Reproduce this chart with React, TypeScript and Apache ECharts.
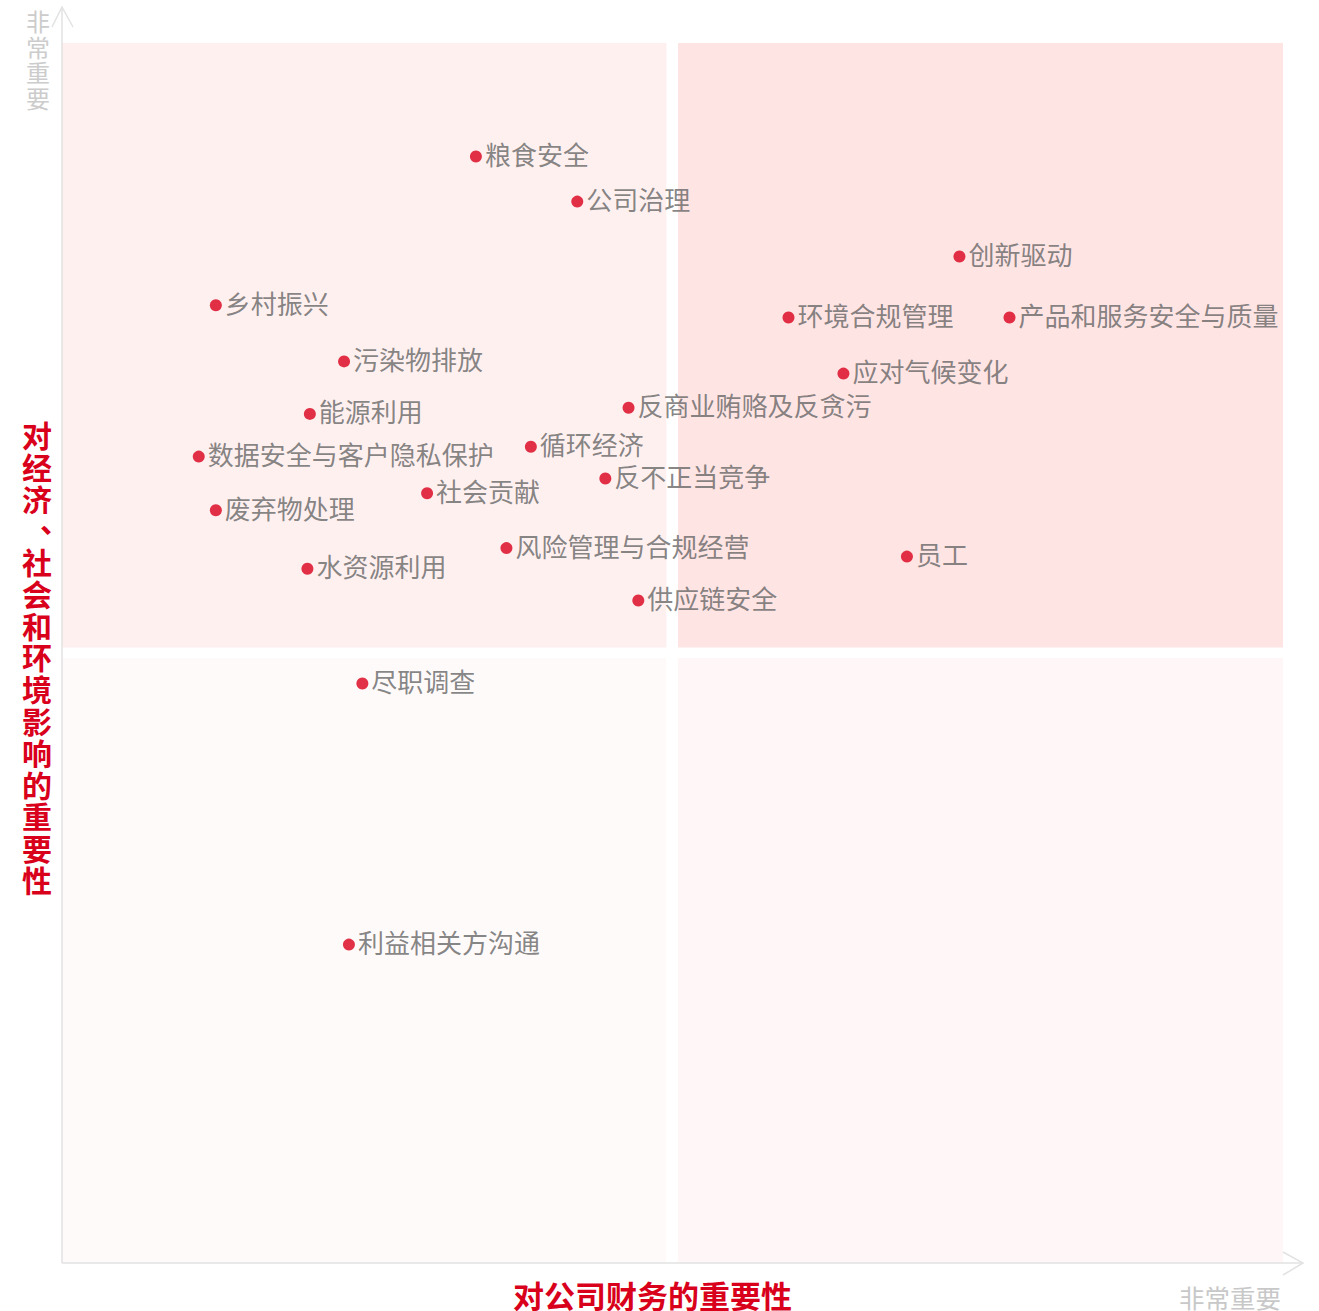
import React, { useEffect, useRef } from "react";
import * as echarts from "echarts";

const topicNames = [
  "粮食安全", "公司治理", "创新驱动", "乡村振兴", "环境合规管理", "产品和服务安全与质量",
  "污染物排放", "应对气候变化", "反商业贿赂及反贪污", "能源利用", "循环经济", "数据安全与客户隐私保护",
  "反不正当竞争", "社会贡献", "废弃物处理", "风险管理与合规经营", "员工", "水资源利用",
  "供应链安全", "尽职调查", "利益相关方沟通",
];
const financialImportance = [
  33.9, 42.2, 73.5, 12.6, 59.5, 77.6,
  23.1, 64.0, 46.4, 20.3, 38.4, 11.2,
  44.5, 29.9, 12.6, 36.4, 69.2, 20.1,
  47.2, 24.6, 23.5,
];
const impactImportance = [
  90.7, 87.0, 82.5, 78.5, 77.5, 77.5,
  73.9, 72.9, 70.1, 69.6, 66.9, 66.1,
  64.3, 63.1, 61.7, 58.6, 57.9, 56.9,
  54.3, 47.5, 26.1,
];
const xAxisTitle = "对公司财务的重要性";
const yAxisTitleParts = ["对经济", "、", "社会和环境影响的重要性"];
const endLabel = "非常重要";

const FONT = '"Noto Sans CJK SC", "Noto Sans", sans-serif';
const RED = "#d9001b";

export default function App() {
  const ref = useRef<HTMLDivElement>(null);
  useEffect(() => {
    document.body.style.margin = "0";
    const chart = echarts.init(ref.current!, null, { renderer: "svg" });
    const data = topicNames.map((n, i) => ({ name: n, value: [financialImportance[i], impactImportance[i]] }));
    const axisColor = "#e2e2e2";
    const LH = 31.8;
    const titleStyle = { fontSize: 30, lineHeight: LH, fill: RED, fontWeight: "bold", fontFamily: FONT };
    chart.setOption({
      animation: false,
      textStyle: { fontFamily: FONT },
      grid: { left: 62, right: 36, top: 43, bottom: 48 },
      xAxis: { type: "value", min: 0, max: 100, show: false },
      yAxis: { type: "value", min: 0, max: 100, show: false },
      series: [
        {
          type: "scatter",
          data,
          symbolSize: 12,
          itemStyle: { color: RED },
          label: {
            show: true,
            position: "right",
            distance: 3,
            offset: [0, -3],
            formatter: "{b}",
            color: "#666666",
            fontSize: 26,
            fontFamily: FONT,
          },
          markArea: {
            silent: true,
            label: { show: false },
            data: [
              [{ coord: [0, 50.45], itemStyle: { color: "#fff0f0" } }, { coord: [49.5, 100] }],
              [{ coord: [50.45, 50.45], itemStyle: { color: "#ffe4e4" } }, { coord: [100, 100] }],
              [{ coord: [0, 0], itemStyle: { color: "#fffafa" } }, { coord: [49.5, 49.6] }],
              [{ coord: [50.45, 0], itemStyle: { color: "#fff7f7" } }, { coord: [100, 49.6] }],
            ],
          },
        },
      ],
      graphic: [
        { type: "line", shape: { x1: 62, y1: 1263, x2: 62, y2: 8 }, style: { stroke: axisColor, lineWidth: 1.5 }, z: 10 },
        { type: "line", shape: { x1: 62, y1: 1263, x2: 1302, y2: 1263 }, style: { stroke: axisColor, lineWidth: 1.5 }, z: 10 },
        { type: "polyline", shape: { points: [[52, 27], [62, 7], [73, 27]] }, style: { stroke: axisColor, lineWidth: 1.5, fill: null }, z: 10 },
        { type: "polyline", shape: { points: [[1283, 1252], [1303, 1263], [1283, 1275]] }, style: { stroke: axisColor, lineWidth: 1.5, fill: null }, z: 10 },
        {
          type: "text", left: 26, top: 8,
          style: { text: endLabel.split("").join("\n"), fontSize: 24, lineHeight: 25.5, fill: "#cccccc", fontFamily: FONT },
        },
        {
          type: "text", x: 1179, y: 1296,
          style: { text: endLabel, fontSize: 25.5, lineHeight: 26, fill: "#c8c8c8", fontFamily: FONT, verticalAlign: "middle" },
        },
        {
          type: "text", left: 22, top: 418,
          style: { ...titleStyle, text: yAxisTitleParts[0].split("").join("\n") },
        },
        {
          type: "text", x: 40, y: 519,
          style: { ...titleStyle, lineHeight: 12, verticalAlign: "middle", text: yAxisTitleParts[1] },
        },
        {
          type: "text", left: 22, top: 418 + 4 * LH,
          style: { ...titleStyle, text: yAxisTitleParts[2].split("").join("\n") },
        },
        {
          type: "text", x: 513, y: 1294,
          style: { text: xAxisTitle, fontSize: 31, lineHeight: 31, fill: RED, fontWeight: "bold", fontFamily: FONT, verticalAlign: "middle" },
        },
      ],
    });
    return () => chart.dispose();
  }, []);
  return <div ref={ref} style={{ width: 1319, height: 1311 }} />;
}
